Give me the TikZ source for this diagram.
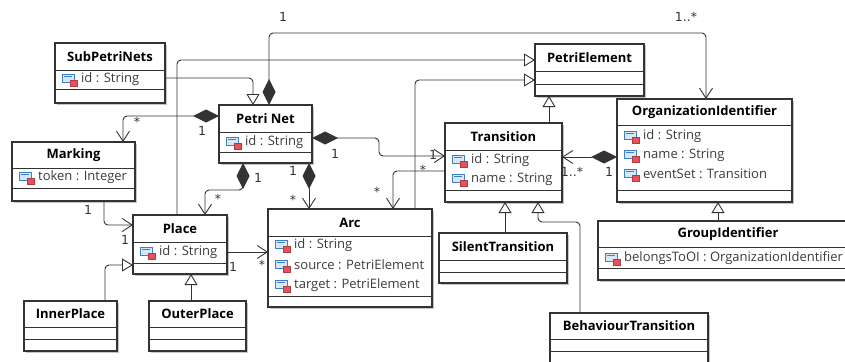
\documentclass[tikz,border=0pt]{standalone}
\usepackage{fontspec}
\setmainfont{Open Sans}
\newfontfamily\multfont{DejaVu Sans}
\usetikzlibrary{arrows.meta}
\definecolor{linec}{HTML}{333333}
\definecolor{shadowc}{HTML}{C4C4C4}
\definecolor{iconblue}{HTML}{3F7FC4}
\definecolor{iconfill}{HTML}{D6E8F8}
\definecolor{iconred}{HTML}{E8505A}
\definecolor{textc}{HTML}{3C3C3C}
\tikzset{
  clsbox/.style={draw=linec, line width=1.1pt, fill=white, inner sep=0pt, outer sep=0pt, rectangle},
  sepline/.style={draw=linec, line width=0.9pt},
  titletext/.style={font=\bfseries\fontsize{13}{15}\selectfont, text=black, inner sep=0pt},
  attrtext/.style={font=\fontsize{13}{15}\selectfont, text=textc, anchor=west, inner sep=0pt},
  conn/.style={draw=linec, line width=0.9pt, rounded corners=4pt},
  assoc/.style={conn, -{Straight Barb[length=10pt,width=13pt]}},
  gen/.style={conn, -{Triangle[length=11pt,width=13pt,fill=white]}},
  comp/.style={conn, {Diamond[length=26pt,width=13pt]}-{Straight Barb[length=10pt,width=13pt]}},
  mult/.style={font=\multfont\fontsize{12.5}{14}\selectfont, inner sep=0pt, text=linec},
  fieldicon/.pic={
    \draw[iconblue, line width=0.6pt, fill=iconfill] (0,-5) rectangle (12,3);
    \draw[iconblue, line width=0.5pt] (2,-3) -- (10,-3);
    \draw[iconred!75!black, line width=0.5pt, fill=iconred] (8,1) rectangle (15,7);
  }
}
\newcommand\umlcls[8]{% name, left, top, right, bottom, sep1, sep2, title
  \fill[shadowc] ({#2+2},{#3+2}) rectangle ({#4+2},{#5+2});
  \pgfmathsetmacro\clsw{#4-#2}\pgfmathsetmacro\clsh{#5-#3}%
  \node[clsbox, anchor=north west, minimum width=\clsw pt, minimum height=\clsh pt] (#1) at (#2,#3) {};
  \draw[sepline] (#2,#6) -- (#4,#6);
  \draw[sepline] (#2,#7) -- (#4,#7);
  \node[titletext] (#1-t) at ({(#2+#4)/2},{(#3+#6)/2}) {#8};
}
\newcommand\umlattr[4]{% name, box left, y, text
  \pic at ({#2+7},#3) {fieldicon};
  \node[attrtext] (#1) at ({#2+26},#3) {#4};
}
\begin{document}
\begin{tikzpicture}[x=1pt, y=-1pt]
\useasboundingbox[fill=white] (0,0) rectangle (845,361);
\clip (0,0) rectangle (845,361);

% classes
\umlcls{spn}{55}{43}{165}{103}{70}{89}{SubPetriNets}
\umlattr{spn-a1}{55}{79}{id : String}

\umlcls{pn}{219}{105}{312}{163}{132}{152}{Petri Net}
\umlattr{pn-a1}{219}{142}{id : String}

\umlcls{mk}{12}{142}{135}{201}{168}{188}{Marking}
\umlattr{mk-a1}{12}{177}{token : Integer}

\umlcls{pl}{133}{215}{227}{274}{242}{263}{Place}
\umlattr{pl-a1}{133}{252}{id : String}

\umlcls{arc}{268}{209}{432}{307}{236}{296}{Arc}
\umlattr{arc-a1}{268}{245}{id : String}
\umlattr{arc-a2}{268}{265}{source : PetriElement}
\umlattr{arc-a3}{268}{285}{target : PetriElement}

\umlcls{tr}{445}{123}{562}{202}{150}{190}{Transition}
\umlattr{tr-a1}{445}{160}{id : String}
\umlattr{tr-a2}{445}{179}{name : String}

\umlcls{pe}{535}{44}{644}{96}{71}{84}{PetriElement}

\umlcls{oi}{617}{99}{792}{202}{125}{190}{OrganizationIdentifier}
\umlattr{oi-a1}{617}{136}{id : String}
\umlattr{oi-a2}{617}{155}{name : String}
\umlattr{oi-a3}{617}{174}{eventSet : Transition}

\umlcls{gi}{598}{221}{858}{280}{247}{268}{GroupIdentifier}
\umlattr{gi-a1}{598}{258}{belongsToOI : OrganizationIdentifier}

\umlcls{st}{439}{233}{567}{283}{260}{272}{SilentTransition}
\umlcls{bt}{550}{313}{708}{364}{339}{351}{BehaviourTransition}
\umlcls{ip}{24}{301}{117}{351}{327}{339}{InnerPlace}
\umlcls{op}{149}{301}{246}{351}{327}{339}{OuterPlace}

% connectors
\draw[comp] (pn.north -| 269,0) -- (269,33) -- (706,33) -- (oi.north -| 706,0);
\draw[gen] (spn.east |- 0,78) -- (253,78) -- (pn.north -| 253,0);
\draw[gen] (pl.north -| 177,0) -- (177,60) -- (pe.west |- 0,60);
\draw[gen] (arc.north -| 415,0) -- (415,80) -- (pe.west |- 0,80);
\draw[gen] (tr.north -| 549,0) -- (pe.south -| 549,0);
\draw[comp] (pn.west |- 0,116) -- (123,116) -- (mk.north -| 123,0);
\draw[comp] (pn.south -| 243,0) -- (243,190) -- (205,190) -- (pl.north -| 205,0);
\draw[comp] (pn.south -| 309,0) -- (arc.north -| 309,0);
\draw[comp] (pn.east |- 0,138) -- (379,138) -- (379,156) -- (tr.west |- 0,156);
\draw[assoc] (tr.west |- 0,171) -- (393,171) -- (arc.north -| 393,0);
\draw[comp] (oi.west |- 0,157) -- (tr.east |- 0,157);
\draw[assoc] (mk.south -| 104,0) -- (104,225) -- (pl.west |- 0,225);
\draw[assoc] (pl.east |- 0,252) -- (arc.west |- 0,252);
\draw[gen] (ip.north -| 105,0) -- (105,265) -- (pl.west |- 0,265);
\draw[gen] (op.north -| 191,0) -- (pl.south -| 191,0);
\draw[gen] (st.north -| 505,0) -- (tr.south -| 505,0);
\draw[gen] (bt.north -| 580,0) -- (580,222) -- (538,222) -- (tr.south -| 538,0);
\draw[gen] (gi.north -| 718,0) -- (oi.south -| 718,0);

% multiplicities
\node[mult] (m1) at (283,17) {1};
\node[mult] (m2) at (686,17) {1..*};
\node[mult] (m3) at (137,122) {*};
\node[mult] (m4) at (202,131) {1};
\node[mult] (m5) at (258,178) {1};
\node[mult] (m6) at (218,199) {*};
\node[mult] (m7) at (293,171) {1};
\node[mult] (m8) at (293,200) {*};
\node[mult] (m9) at (335,154) {1};
\node[mult] (m10) at (433,155) {1};
\node[mult] (m11) at (423,170) {*};
\node[mult] (m12) at (377,192) {*};
\node[mult] (m13) at (572,172) {1..*};
\node[mult] (m14) at (609,172) {1};
\node[mult] (m15) at (88,210) {1};
\node[mult] (m16) at (125,240) {1};
\node[mult] (m17) at (233,267) {1};
\node[mult] (m18) at (262,265) {*};
\end{tikzpicture}
\end{document}
